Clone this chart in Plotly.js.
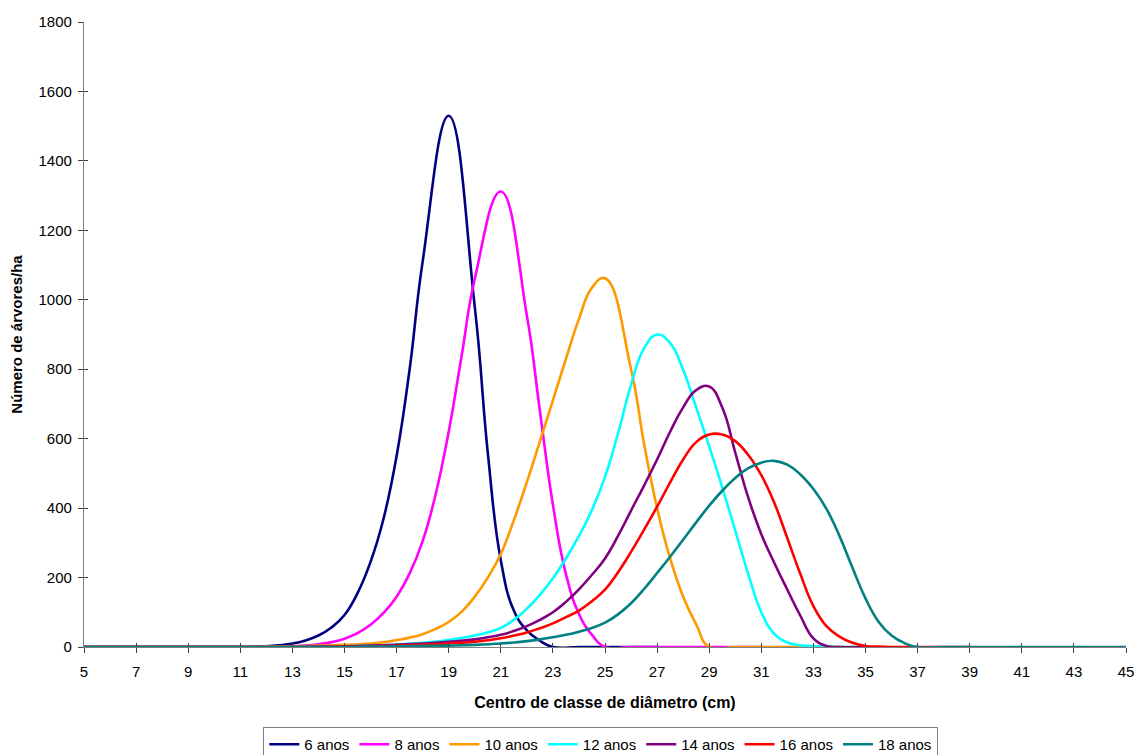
<!DOCTYPE html>
<html>
<head>
<meta charset="utf-8">
<script src="https://cdn.plot.ly/plotly-3.0.1.min.js"></script>
<style>
  html, body { margin: 0; padding: 0; background: #ffffff; }
  #chart { width: 1137px; height: 755px; }
</style>
</head>
<body>
<div id="chart"></div>
<script>
// Diameter class centres (cm) and trees/ha for each age
const x6  = [5,6,7,8,9,10,11,12,12.5,13,13.5,14,14.5,15,15.5,16,16.5,17,17.5,18,19,20,20.5,21,21.5,22,22.5,23,24,25,26,27];
const y6  = [0,0,0,0,0,0,0,2,5,10,19,33,56,92,155,245,370,550,800,1110,1530,980,560,250,105,48,18,0,0,0,0,0];

const x8  = [5,6,7,8,9,10,11,12,12.5,13,13.5,14,14.5,15,15.5,16,16.5,17,17.5,18,18.5,19,19.5,20,21,22,22.5,23,23.5,24,24.5,25,26,27,28,29,30,31];
const y8  = [0,0,0,0,0,0,0,0,0,2,4,8,14,24,40,64,98,145,212,305,440,620,840,1060,1312,955,680,410,210,95,35,0,0,0,0,0,0,0];

const x10 = [5,6,7,8,9,10,11,12,13,14,15,16,16.5,17,17.5,18,18.5,19,19.5,20,20.5,21,21.5,22,22.5,23,23.5,24,24.5,25,26,26.5,27,27.5,28,28.5,29,30,31,32,33,34,35];
const y10 = [0,0,0,0,0,0,0,1,2,4,6,10,14,20,27,37,52,72,102,145,200,268,365,475,592,710,830,945,1035,1062,800,585,400,255,145,65,0,0,0,0,0,0,0];

const x12 = [5,6,7,8,9,10,11,12,13,14,15,16,17,18,19,19.5,20,20.5,21,21.5,22,22.5,23,23.5,24,24.5,25,25.5,26,26.5,27,27.5,28,28.5,29,29.5,30,30.5,31,31.5,32,32.5,33,33.5,34,35];
const y12 = [0,0,0,0,0,0,0,0,0,1,2,4,7,12,20,26,33,42,55,78,110,150,198,255,320,395,490,615,755,860,900,875,798,690,578,460,335,210,100,38,13,5,2,1,0,0];

const x14 = [5,6,7,8,9,10,11,12,13,14,15,16,17,18,19,20,21,21.5,22,22.5,23,23.5,24,24.5,25,25.5,26,26.5,27,27.5,28,28.5,29,29.5,30,30.5,31,31.5,32,32.5,33,33.5,34,35];
const y14 = [0,0,0,0,0,0,0,0,0,1,2,4,6,10,15,22,35,46,60,78,100,130,166,208,255,320,393,465,540,620,690,740,750,690,560,430,325,242,165,90,25,3,0,0];

const x16 = [5,6,7,8,9,10,11,12,13,14,15,16,17,18,19,20,21,21.5,22,22.5,23,23.5,24,24.5,25,25.5,26,26.5,27,27.5,28,28.5,29,29.5,30,30.5,31,31.5,32,32.5,33,33.5,34,34.5,35,35.5,36,37,38,39];
const y16 = [0,0,0,0,0,0,0,0,0,0,1,2,4,6,10,15,25,33,42,54,68,86,105,132,165,215,274,338,404,474,540,590,612,612,593,553,495,415,313,210,118,60,30,12,3,1,0,0,0,0];

const x18 = [5,6,7,8,9,10,11,12,13,14,15,16,17,18,19,20,21,21.5,22,22.5,23,23.5,24,24.5,25,25.5,26,26.5,27,27.5,28,28.5,29,29.5,30,30.5,31,31.5,32,32.5,33,33.5,34,34.5,35,35.5,36,36.5,37,38,39,40,41,42,43,44,45];
const y18 = [0,0,0,0,0,0,0,0,0,0,0,1,2,3,4,6,10,13,17,22,28,35,44,55,70,94,126,167,213,260,309,359,407,450,487,515,531,536,525,497,455,398,320,228,140,73,33,11,0,0,0,0,0,0,0,0,0];

const seriesNames  = ['6 anos','8 anos','10 anos','12 anos','14 anos','16 anos','18 anos'];
const seriesX      = [x6, x8, x10, x12, x14, x16, x18];
const seriesY      = [y6, y8, y10, y12, y14, y16, y18];
const seriesColors = ['#000080','#FF00FF','#FF9900','#00FFFF','#800080','#FF0000','#008080'];

const xTicks = [5,7,9,11,13,15,17,19,21,23,25,27,29,31,33,35,37,39,41,43,45];
const yTicks = [0,200,400,600,800,1000,1200,1400,1600,1800];

const FONT = 'Arial, "Liberation Sans", Helvetica, sans-serif';

const traces = seriesNames.map((n, i) => ({
  type: 'scatter',
  mode: 'lines',
  name: n,
  x: seriesX[i],
  y: seriesY[i],
  line: { color: seriesColors[i], width: 2.6, shape: 'spline', smoothing: 1.3 },
  hoverinfo: 'x+y+name'
}));

// helper trace so the overlay axes (inner half of cross ticks) exist
traces.push({
  type: 'scatter', mode: 'lines', x: [5, 45], y: [0, 0],
  xaxis: 'x2', yaxis: 'y2', showlegend: false, hoverinfo: 'skip',
  line: { color: 'rgba(0,0,0,0)', width: 0 }
});

const layout = {
  width: 1137,
  height: 755,
  paper_bgcolor: '#ffffff',
  plot_bgcolor: '#ffffff',
  margin: { l: 84, r: 11, t: 22, b: 108, autoexpand: false },
  font: { family: FONT, size: 15, color: '#000000' },
  showlegend: true,
  xaxis: {
    range: [5, 45],
    tickmode: 'array',
    tickvals: xTicks,
    ticktext: xTicks.map(String),
    ticks: 'outside', ticklen: 5, tickwidth: 1, tickcolor: '#404040',
    ticklabelstandoff: 6,
    showline: true, linecolor: '#808080', linewidth: 1.2,
    showgrid: false, zeroline: false,
    tickfont: { family: FONT, size: 15, color: '#000000' },
    title: { text: '<b>Centro de classe de diâmetro (cm)</b>', font: { family: FONT, size: 16, color: '#000' }, standoff: 17 }
  },
  yaxis: {
    range: [0, 1800],
    tickmode: 'array',
    tickvals: yTicks,
    ticktext: yTicks.map(String),
    ticks: 'outside', ticklen: 5, tickwidth: 1, tickcolor: '#404040',
    ticklabelstandoff: 3,
    showline: true, linecolor: '#808080', linewidth: 1.2,
    showgrid: false, zeroline: false,
    tickfont: { family: FONT, size: 15, color: '#000000' },
    title: { text: '<b>Número de árvores/ha</b>', font: { family: FONT, size: 15, color: '#000' }, standoff: 12 }
  },
  xaxis2: {
    overlaying: 'x', matches: 'x', range: [5, 45],
    tickmode: 'array', tickvals: xTicks, showticklabels: false,
    ticks: 'inside', ticklen: 4, tickwidth: 1, tickcolor: '#404040',
    showline: false, showgrid: false, zeroline: false
  },
  yaxis2: {
    overlaying: 'y', matches: 'y', range: [0, 1800],
    tickmode: 'array', tickvals: yTicks, showticklabels: false,
    ticks: 'inside', ticklen: 4, tickwidth: 1, tickcolor: '#404040',
    showline: false, showgrid: false, zeroline: false
  },
  legend: {
    orientation: 'h',
    x: 0.496, xanchor: 'center',
    y: -0.128, yanchor: 'top',
    bordercolor: '#808080', borderwidth: 1,
    bgcolor: '#ffffff',
    font: { family: FONT, size: 15, color: '#000000' },
    itemwidth: 30,
    tracegroupgap: 0
  }
};

Plotly.newPlot('chart', traces, layout, { displayModeBar: false, responsive: false });
</script>
</body>
</html>
